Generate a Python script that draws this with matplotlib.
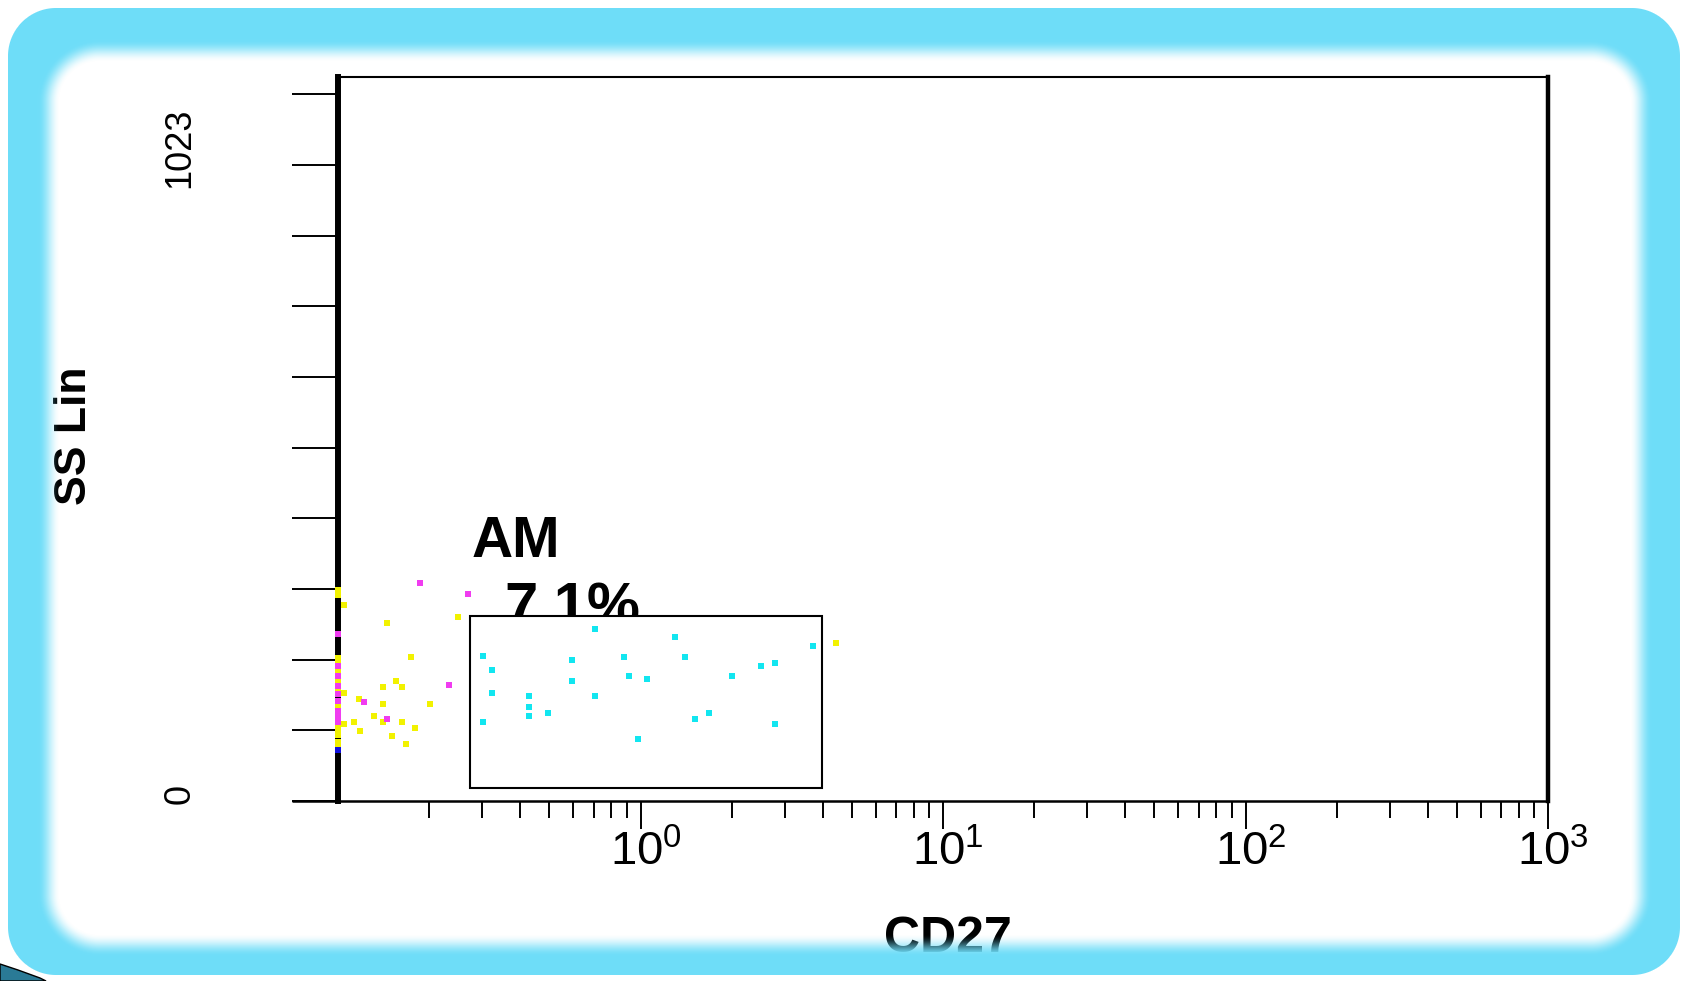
import numpy as np
import matplotlib
matplotlib.use("Agg")
import matplotlib.pyplot as plt
import matplotlib.transforms as mtransforms
from matplotlib.patches import Rectangle, Polygon
from matplotlib.ticker import FixedLocator, LogLocator, NullFormatter

# Figure size in pixels
W, H = 1684, 981
DPI = 100

# Axis settings
x_limits = [0.1, 1000]
y_limits = [0, 1048]
x_major = [1, 10, 100, 1000]
x_major_labels = [r"$\mathregular{10^{0}}$", r"$\mathregular{10^{1}}$",
                  r"$\mathregular{10^{2}}$", r"$\mathregular{10^{3}}$"]
y_ticks = list(np.linspace(0, 1023, 11))
y_label_values = [0, 1023]
y_label_positions = [10, 945]

# Gate (AM region)
gate_x = [0.273, 3.98]
gate_y = [18.8, 268.5]
gate_name = "AM"
gate_pct = "7.1%"

# Events inside the gate (cyan)
gated_x = [0.301, 0.322, 0.322, 0.301, 0.428, 0.428, 0.428, 0.494, 0.593, 0.593,
           0.709, 0.709, 0.881, 0.915, 1.054, 0.982, 1.303, 1.402, 1.509, 1.687,
           2.013, 2.501, 2.788, 2.788, 3.72]
gated_y = [210, 189, 156, 115, 152, 136, 123, 127, 204, 173,
           249, 152, 209, 181, 177, 90, 238, 209, 119, 127,
           181, 196, 200, 111, 225]

# Events outside the gate
yellow_x = [0.1047, 0.1455, 0.1745, 0.249, 0.1408, 0.1557, 0.1626, 0.117, 0.1408,
            0.2011, 0.1312, 0.113, 0.1408, 0.1626, 0.1047, 0.1178, 0.1803, 0.151,
            0.168, 4.43, 0.105]
yellow_y = [283, 258, 208, 266, 165, 173, 165, 148, 140,
            140, 123, 115, 115, 115, 111, 102, 106, 94,
            82, 229, 156]
magenta_x = [0.1873, 0.268, 0.2328, 0.122, 0.1455]
magenta_y = [316, 300, 168, 144, 119]

# Events piled up on the left axis (lowest channel)
axis_yellow_y = [305, 298, 207, 200, 190, 183, 173, 170, 160, 138, 116, 108, 102, 96, 85, 80]
axis_magenta_y = [242, 196, 181, 167, 155, 145, 131, 126, 123, 114]
axis_blue_y = [74]

FRAME_BLUE = (110 / 255, 221 / 255, 248 / 255)

plt.rcParams["font.family"] = ["Liberation Sans", "DejaVu Sans"]
plt.rcParams["mathtext.fontset"] = "custom"
plt.rcParams["mathtext.rm"] = "Liberation Sans"
plt.rcParams["mathtext.it"] = "Liberation Sans:italic"
plt.rcParams["mathtext.bf"] = "Liberation Sans:bold"


def rounded_rect_distance(xx, yy, left, top, right, bottom, r):
    """Signed distance to a rounded rectangle (negative inside)."""
    cx, cy = (left + right) / 2, (top + bottom) / 2
    hx, hy = (right - left) / 2, (bottom - top) / 2
    qx = np.abs(xx - cx) - (hx - r)
    qy = np.abs(yy - cy) - (hy - r)
    outside = np.hypot(np.maximum(qx, 0), np.maximum(qy, 0))
    inside = np.minimum(np.maximum(qx, qy), 0)
    return outside + inside - r


def frame_image():
    """Rounded light-blue slide frame with a soft inner edge."""
    yy, xx = np.mgrid[0:H, 0:W] + 0.5
    d_outer = rounded_rect_distance(xx, yy, 8, 8, 1680, 975, 48)
    d_inner = rounded_rect_distance(xx, yy, 60, 62, 1630, 934, 40)

    edge = np.clip(0.5 - d_outer, 0, 1)
    t = np.clip(d_inner / 22, 0, 1)
    fade = t * t * (3 - 2 * t)
    rgba = np.zeros((H, W, 4))
    rgba[..., 0], rgba[..., 1], rgba[..., 2] = FRAME_BLUE
    rgba[..., 3] = edge * fade
    return rgba


fig = plt.figure(figsize=(W / DPI, H / DPI), dpi=DPI)
ax = fig.add_axes([338 / W, 1 - 801 / H, 1210 / W, 724 / H])

ax.set_xscale("log")
ax.set_xlim(*x_limits)
ax.set_ylim(*y_limits)

# Ticks
ax.xaxis.set_major_locator(FixedLocator(x_major))
ax.xaxis.set_minor_locator(LogLocator(base=10, subs=range(2, 10)))
ax.xaxis.set_minor_formatter(NullFormatter())
ax.set_xticklabels(x_major_labels)
ax.tick_params(axis="x", which="major", length=20, width=1.4, direction="out",
               labelsize=34, pad=1)
ax.tick_params(axis="x", which="minor", length=12, width=1.4, direction="out")
shift = mtransforms.ScaledTranslation(5 / DPI, 0, fig.dpi_scale_trans)
for lbl in ax.get_xticklabels():
    lbl.set_transform(lbl.get_transform() + shift)

ax.set_yticks(y_ticks)
ax.tick_params(axis="y", length=33, width=1.4, direction="out", labelleft=False)
for val, pos in zip(y_label_values, y_label_positions):
    ax.text(-0.1306, pos, str(val), rotation=90, fontsize=26, ha="center",
            va="center", transform=ax.get_yaxis_transform())

# Spines
ax.spines["left"].set_linewidth(4.3)
ax.spines["right"].set_linewidth(3.2)
ax.spines["top"].set_linewidth(1.5)
ax.spines["bottom"].set_linewidth(1.8)
ax.plot([-0.038, 0], [0, 0], transform=ax.transAxes, color="black", lw=1.8,
        clip_on=False, solid_capstyle="butt")

# Axis labels
ax.set_xlabel("CD27", fontsize=36, fontweight="bold", va="center")
ax.xaxis.set_label_coords(0.504, -0.19)
ax.set_ylabel("SS Lin", fontsize=32, fontweight="bold", va="center")
ax.yaxis.set_label_coords(-0.218, 0.505)

# Gate annotation and rectangle
ax.text(0.2773, 353, gate_name, fontsize=41, fontweight="bold", ha="left",
        va="baseline", zorder=2)
ax.text(0.356, 256, gate_pct, fontsize=43, fontweight="bold", ha="left",
        va="baseline", zorder=2)
ax.add_patch(Rectangle((gate_x[0], gate_y[0]), gate_x[1] - gate_x[0],
                       gate_y[1] - gate_y[0], facecolor="white",
                       edgecolor="black", lw=1.5, zorder=3))

# Events
ax.scatter(gated_x, gated_y, marker="s", s=13, color="#12E6F0", linewidths=0, zorder=4)
ax.scatter(yellow_x, yellow_y, marker="s", s=13, color="#F2F200", linewidths=0, zorder=4)
ax.scatter(magenta_x, magenta_y, marker="s", s=13, color="#F03CF0", linewidths=0, zorder=4)
ax.scatter([x_limits[0]] * len(axis_yellow_y), axis_yellow_y, marker="s", s=16,
           color="#F2F200", linewidths=0, zorder=5, clip_on=False)
ax.scatter([x_limits[0]] * len(axis_magenta_y), axis_magenta_y, marker="s", s=16,
           color="#F03CF0", linewidths=0, zorder=5, clip_on=False)
ax.scatter([x_limits[0]] * len(axis_blue_y), axis_blue_y, marker="s", s=16,
           color="#1010E0", linewidths=0, zorder=5, clip_on=False)

# Slide frame on top of everything
fax = fig.add_axes([0, 0, 1, 1], zorder=10)
fax.imshow(frame_image(), aspect="auto", interpolation="bilinear")
fax.axis("off")
fig.patches.append(Polygon([(0, 17 / H), (18 / W, 11 / H), (40 / W, 3 / H),
                            (46 / W, 0), (0, 0)],
                           closed=True, transform=fig.transFigure,
                           facecolor="#2A7A96", edgecolor="black", lw=1))

fig.savefig("out.png", dpi=DPI)
